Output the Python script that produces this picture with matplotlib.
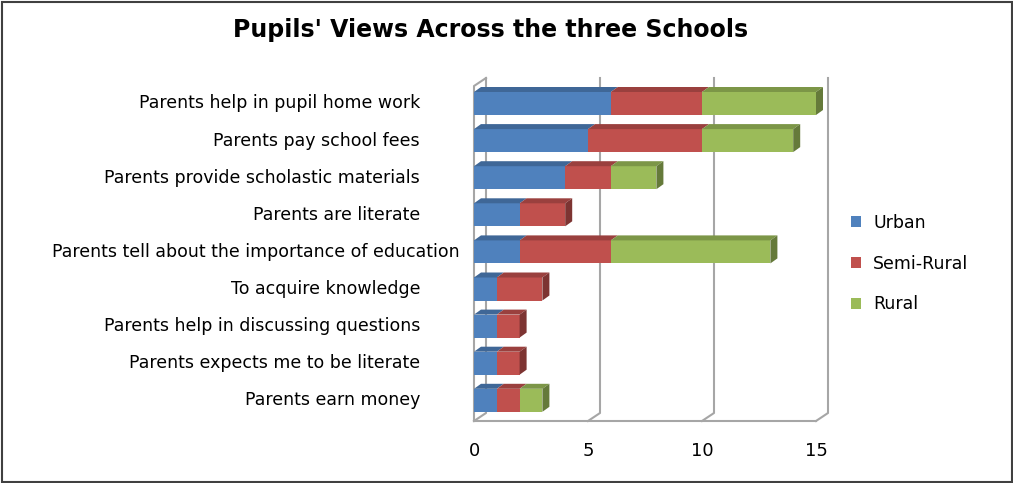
import matplotlib
matplotlib.use("Agg")
import matplotlib.pyplot as plt
from matplotlib.patches import Polygon, Patch, Rectangle
from matplotlib.colors import to_rgb
import numpy as np

categories = ["Parents help in pupil home work",
              "Parents pay school fees",
              "Parents provide scholastic materials",
              "Parents are literate",
              "Parents tell about the importance of education",
              "To acquire knowledge",
              "Parents help in discussing questions",
              "Parents expects me to be literate",
              "Parents earn money"]
urban = [6, 5, 4, 2, 2, 1, 1, 1, 1]
semi_rural = [4, 5, 2, 2, 4, 2, 1, 1, 1]
rural = [5, 4, 2, 0, 7, 0, 0, 0, 1]
series_names = ["Urban", "Semi-Rural", "Rural"]
colors = ["#4F81BD", "#C0504D", "#9BBB59"]
xticks = [0, 5, 10, 15]

W, H = 1013, 483
fig = plt.figure(figsize=(W / 100, H / 100), dpi=100)

# pixel geometry of the plot area (front x=0 at 474px, 22.8 px per unit, rows 37.1px apart)
px_x, px_y = 22.8, 37.1
x0_px, row0_px = 474, 103.5
xlim = (-0.5, 16.2)
ylim = ((432 - row0_px) / px_y, (68 - row0_px) / px_y)
left_px = x0_px + xlim[0] * px_x
right_px = x0_px + xlim[1] * px_x
ax = fig.add_axes([left_px / W, 1 - 432 / H, (right_px - left_px) / W, (432 - 68) / H])
ax.set_xlim(*xlim)
ax.set_ylim(*ylim)
for s in ax.spines.values():
    s.set_visible(False)

# walls and gridlines
wdx, wdy = 12 / px_x, 8 / px_y
top_y = (78 - row0_px) / px_y
floor_y = (421 - row0_px) / px_y
gcol = "#A6A6A6"
for t in xticks:
    ax.plot([t + wdx, t + wdx, t], [top_y, floor_y - wdy, floor_y], color=gcol, lw=1.5, zorder=1)
ax.plot([wdx, 0, 0], [top_y, top_y + wdy, floor_y], color=gcol, lw=1.5, zorder=1)
ax.plot([0, xticks[-1]], [floor_y, floor_y], color=gcol, lw=1.5, zorder=1)

# bars with 3D faces
pos = np.arange(len(categories))
h = 0.62
bdx, bdy = 7 / px_x, 5 / px_y
data = [urban, semi_rural, rural]
lefts = np.zeros(len(categories))
for vals, c in zip(data, colors):
    vals = np.array(vals, dtype=float)
    ax.barh(pos, vals, left=lefts, height=h, color=c, zorder=3)
    top_c = tuple(np.array(to_rgb(c)) * 0.8)
    for i in range(len(pos)):
        if vals[i] == 0:
            continue
        l, r = lefts[i], lefts[i] + vals[i]
        yt = pos[i] - h / 2
        ax.add_patch(Polygon([(l, yt), (r, yt), (r + bdx, yt - bdy), (l + bdx, yt - bdy)],
                             closed=True, facecolor=top_c, edgecolor="none", zorder=3))
    lefts = lefts + vals

# side face on the last segment of each bar
for i in range(len(pos)):
    c = colors[0]
    for vals, col in zip(data, colors):
        if vals[i] > 0:
            c = col
    side_c = tuple(np.array(to_rgb(c)) * 0.65)
    e = lefts[i]
    yt, yb = pos[i] - h / 2, pos[i] + h / 2
    ax.add_patch(Polygon([(e, yt), (e, yb), (e + bdx, yb - bdy), (e + bdx, yt - bdy)],
                         closed=True, facecolor=side_c, edgecolor="none", zorder=3))

ax.set_xticks(xticks)
ax.set_xticklabels([str(t) for t in xticks], fontsize=13)
ax.tick_params(axis="x", length=0, pad=7)
ax.set_yticks([])

# category labels (right aligned, long one sits further right)
for i, cat in enumerate(categories):
    xr = 460 if len(cat) > 40 else 420
    fig.text(xr / W, 1 - (row0_px + i * px_y) / H, cat, ha="right", va="center", fontsize=12.5)

fig.text(491 / W, 1 - 30 / H, "Pupils' Views Across the three Schools",
         ha="center", va="center", fontsize=17, fontweight="bold")

handles = [Patch(facecolor=c, edgecolor="none") for c in colors]
fig.legend(handles, series_names, loc="upper left", bbox_to_anchor=(835 / W, 1 - 198 / H),
           frameon=False, fontsize=12.5, handlelength=0.6, handleheight=0.6,
           labelspacing=1.32, handletextpad=0.7)

fig.add_artist(Rectangle((1.5 / W, 1.5 / H), (W - 3) / W, (H - 3) / H, transform=fig.transFigure,
                         fill=False, edgecolor="#404040", lw=1.5))

fig.savefig("out.png", dpi=100)
